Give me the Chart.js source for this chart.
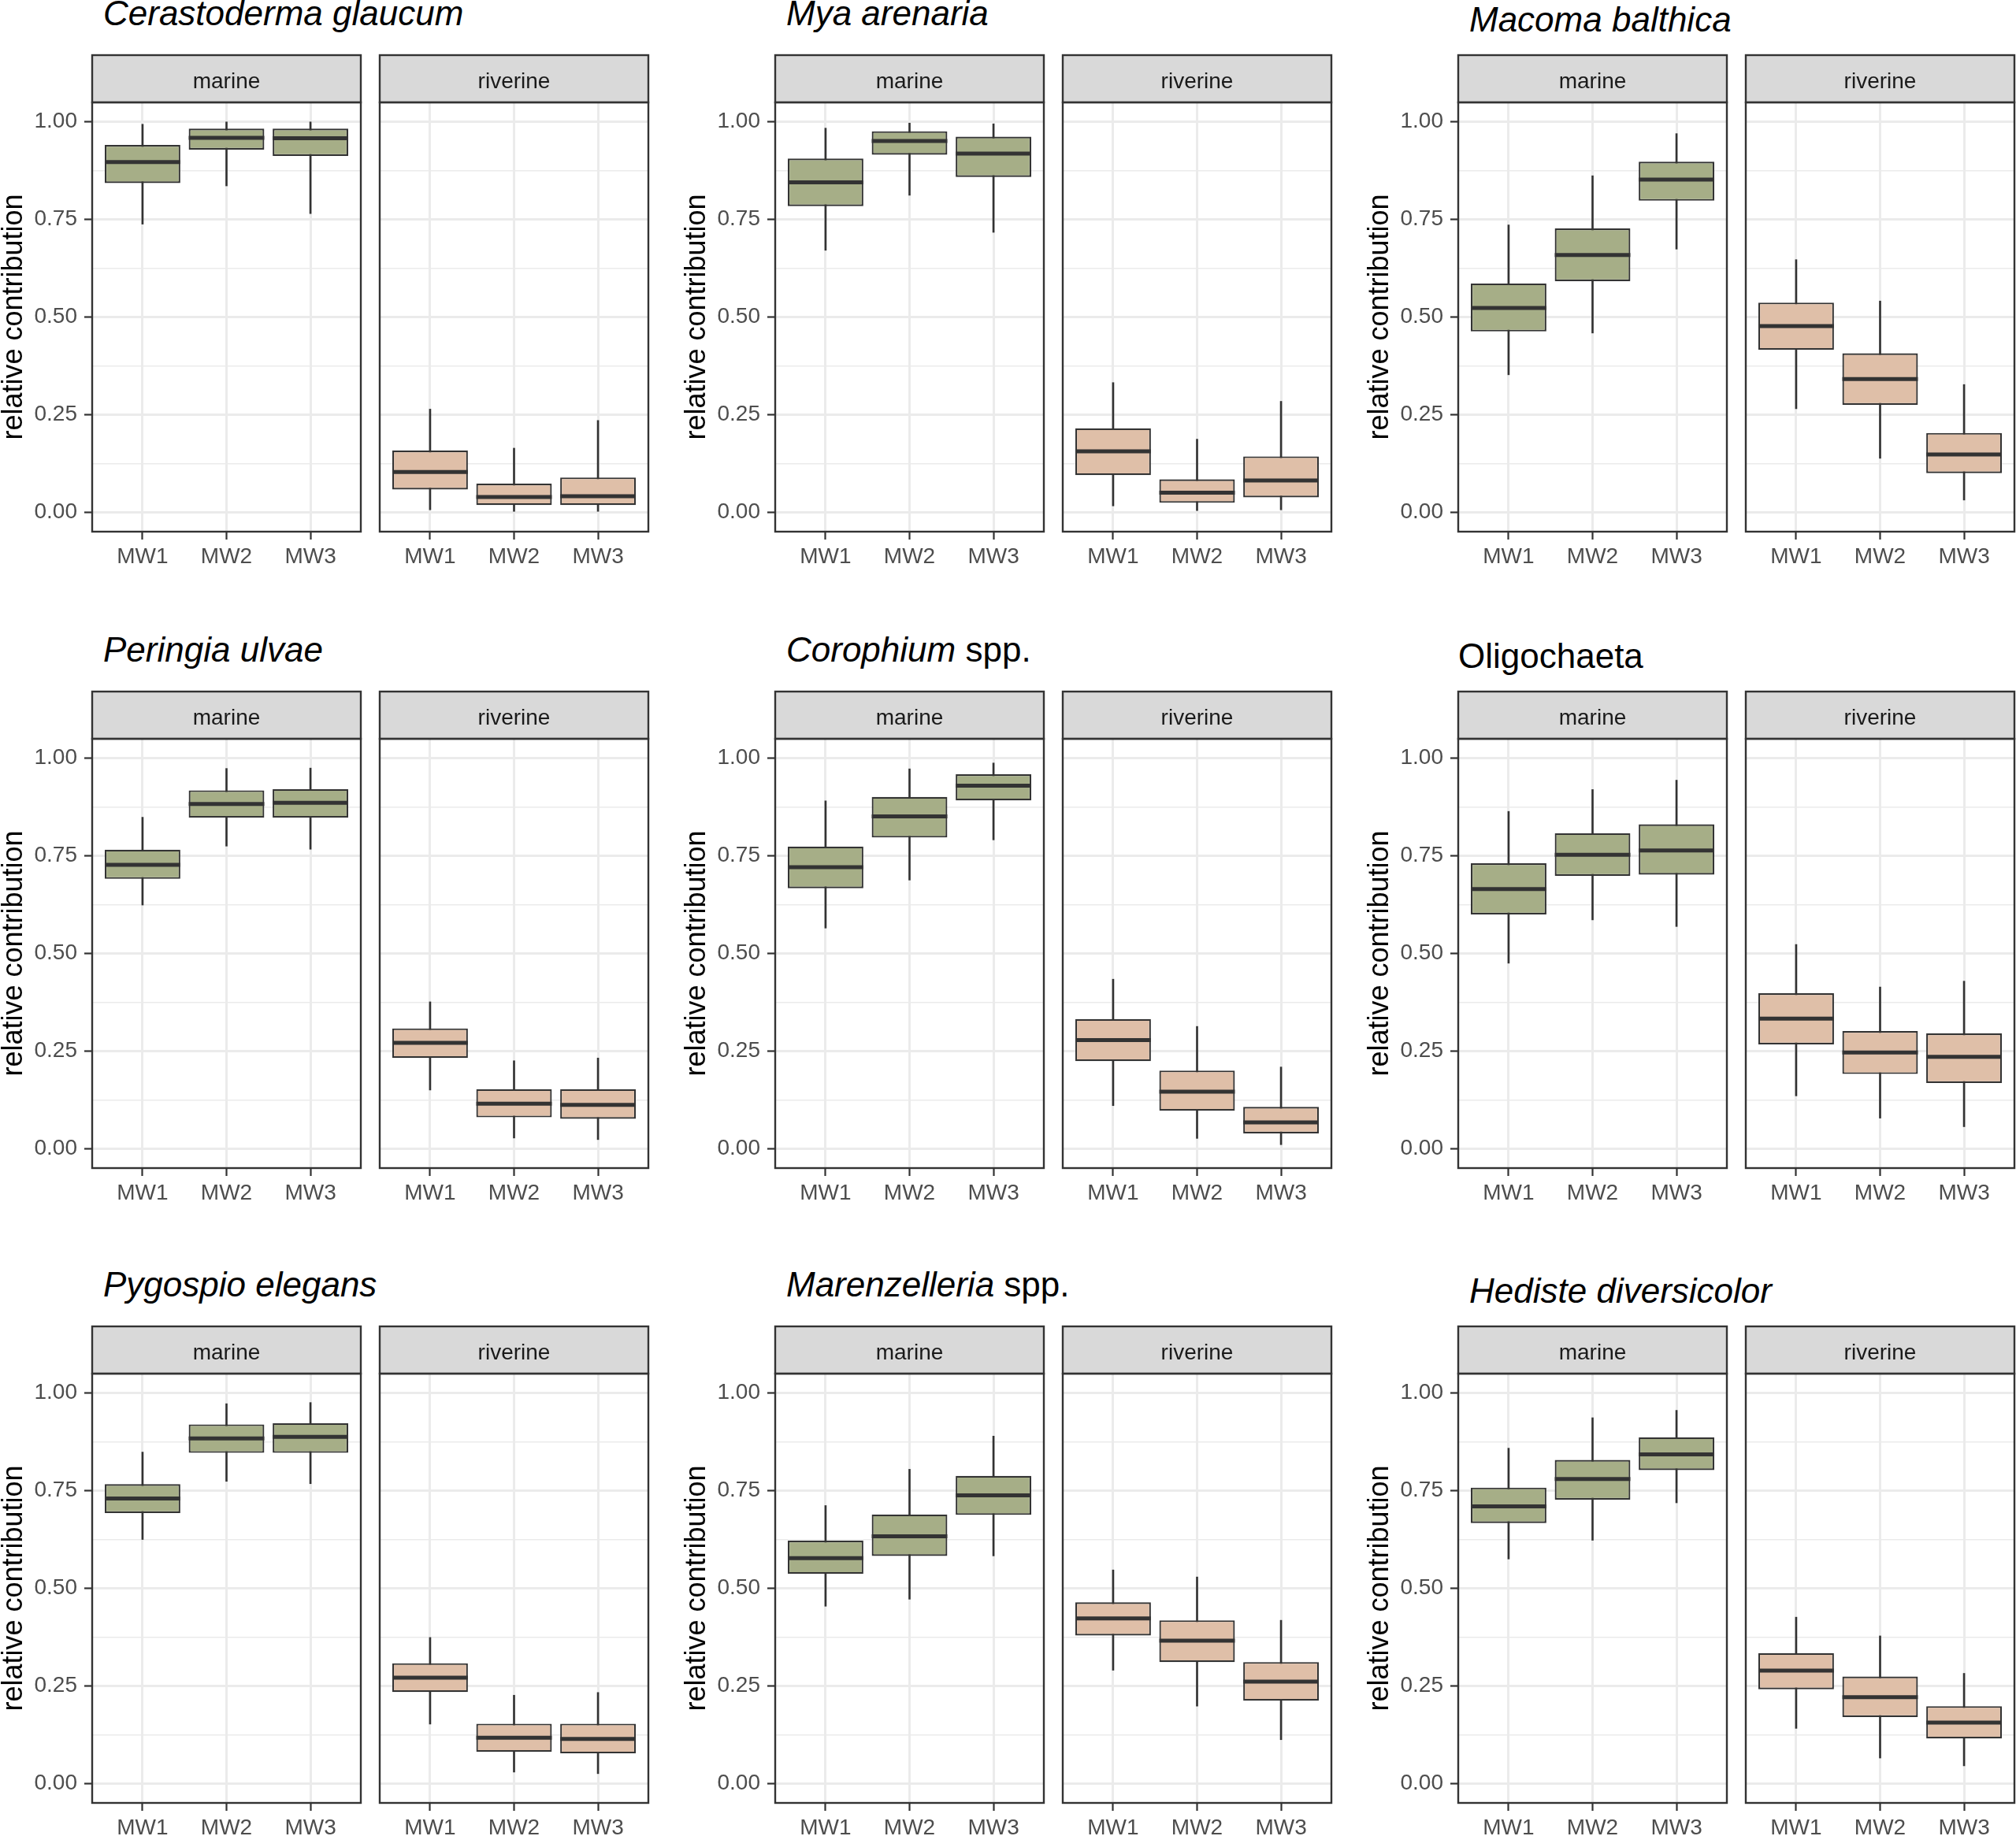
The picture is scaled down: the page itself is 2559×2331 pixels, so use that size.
<!DOCTYPE html>
<html>
<head>
<meta charset="utf-8">
<script src="https://cdn.jsdelivr.net/npm/chart.js@4.4.0/dist/chart.umd.min.js"></script>
<style>
  body { margin: 0; width: 2559px; height: 2331px; background: #fff; position: relative; overflow: hidden;
         font-family: "Liberation Sans", Arial, sans-serif; }
  .title { position: absolute; font-size: 44px; line-height: 44px; color: #000; white-space: nowrap; }
  canvas { position: absolute; }
</style>
</head>
<body>
<script>
// categories
const periods = ['MW1', 'MW2', 'MW3'];
const habitats = ['marine', 'riverine'];
const yMajor = [0, 0.25, 0.5, 0.75, 1];
const yMinor = [0.125, 0.375, 0.625, 0.875];

// each row: [lower whisker, Q1, median, Q3, upper whisker] for MW1, MW2, MW3
const cerastodermaMarine   = [[0.738, 0.843, 0.897, 0.941, 0.994], [0.836, 0.929, 0.959, 0.983, 1.000], [0.765, 0.913, 0.958, 0.983, 1.000]];
const cerastodermaRiverine = [[0.006, 0.058, 0.103, 0.158, 0.264], [0.002, 0.018, 0.039, 0.073, 0.164], [0.002, 0.018, 0.041, 0.089, 0.235]];
const myaMarine            = [[0.671, 0.784, 0.845, 0.906, 0.984], [0.812, 0.916, 0.951, 0.976, 0.997], [0.717, 0.859, 0.919, 0.962, 0.995]];
const myaRiverine          = [[0.016, 0.095, 0.156, 0.215, 0.332], [0.004, 0.024, 0.050, 0.084, 0.187], [0.006, 0.038, 0.081, 0.143, 0.284]];
const macomaMarine         = [[0.352, 0.463, 0.523, 0.586, 0.736], [0.459, 0.592, 0.659, 0.727, 0.862], [0.674, 0.798, 0.852, 0.898, 0.970]];
const macomaRiverine       = [[0.265, 0.416, 0.477, 0.537, 0.647], [0.138, 0.275, 0.341, 0.407, 0.541], [0.031, 0.100, 0.148, 0.203, 0.327]];
const peringiaMarine       = [[0.624, 0.691, 0.727, 0.766, 0.849], [0.775, 0.848, 0.883, 0.918, 0.974], [0.767, 0.848, 0.886, 0.921, 0.975]];
const peringiaRiverine     = [[0.150, 0.232, 0.271, 0.308, 0.376], [0.027, 0.080, 0.115, 0.152, 0.225], [0.023, 0.076, 0.112, 0.152, 0.232]];
const corophiumMarine      = [[0.565, 0.667, 0.721, 0.774, 0.891], [0.688, 0.797, 0.851, 0.901, 0.973], [0.791, 0.892, 0.930, 0.959, 0.988]];
const corophiumRiverine    = [[0.110, 0.224, 0.278, 0.332, 0.434], [0.026, 0.097, 0.146, 0.200, 0.313], [0.010, 0.039, 0.067, 0.107, 0.209]];
const oligochaetaMarine    = [[0.475, 0.600, 0.665, 0.731, 0.864], [0.586, 0.699, 0.753, 0.808, 0.920], [0.569, 0.702, 0.764, 0.831, 0.944]];
const oligochaetaRiverine  = [[0.135, 0.267, 0.333, 0.398, 0.523], [0.078, 0.191, 0.246, 0.301, 0.414], [0.056, 0.168, 0.235, 0.295, 0.429]];
const pygospioMarine       = [[0.625, 0.693, 0.730, 0.767, 0.849], [0.774, 0.847, 0.884, 0.920, 0.973], [0.768, 0.847, 0.888, 0.923, 0.976]];
const pygospioRiverine     = [[0.152, 0.234, 0.271, 0.308, 0.374], [0.029, 0.081, 0.117, 0.153, 0.226], [0.025, 0.077, 0.114, 0.153, 0.233]];
const marenzelleriaMarine  = [[0.454, 0.537, 0.577, 0.622, 0.712], [0.472, 0.583, 0.633, 0.689, 0.805], [0.583, 0.688, 0.738, 0.788, 0.890]];
const marenzelleriaRiverine= [[0.290, 0.379, 0.423, 0.464, 0.547], [0.198, 0.311, 0.366, 0.418, 0.529], [0.112, 0.212, 0.261, 0.311, 0.418]];
const hedisteMarine        = [[0.575, 0.667, 0.710, 0.758, 0.859], [0.623, 0.727, 0.780, 0.829, 0.937], [0.719, 0.803, 0.843, 0.887, 0.956]];
const hedisteRiverine      = [[0.141, 0.241, 0.289, 0.334, 0.426], [0.065, 0.170, 0.221, 0.274, 0.378], [0.045, 0.115, 0.156, 0.198, 0.282]];

// panel titles: [text, italic]
const titleParts = [
  [['Cerastoderma glaucum', true]],
  [['Mya arenaria', true]],
  [['Macoma balthica', true]],
  [['Peringia ulvae', true]],
  [['Corophium', true], [' spp.', false]],
  [['Oligochaeta', false]],
  [['Pygospio elegans', true]],
  [['Marenzelleria', true], [' spp.', false]],
  [['Hediste diversicolor', true]]
];
const panelData = [
  [cerastodermaMarine, cerastodermaRiverine],
  [myaMarine, myaRiverine],
  [macomaMarine, macomaRiverine],
  [peringiaMarine, peringiaRiverine],
  [corophiumMarine, corophiumRiverine],
  [oligochaetaMarine, oligochaetaRiverine],
  [pygospioMarine, pygospioRiverine],
  [marenzelleriaMarine, marenzelleriaRiverine],
  [hedisteMarine, hedisteRiverine]
];

const fills = { marine: '#a6ae87', riverine: '#dfbfa8' };
const ink = '#333333';
const FONT = '"Liberation Sans", Arial, sans-serif';

// layout (px)
const colLeft = [117, 984, 1851];
const rowTop = [70, 878, 1684];
const titleDrop = [37.5, 37.5, 30];
const titleIndent = [14, 14, 14, 14, 14, 0, 14, 14, 14];
const plotW = 341, facetStep = 365, stripH = 60, plotH = 545, axisW = 117, axisH = 60;

Chart.defaults.font.family = FONT;

// grey strip + panel border
const facetFrame = {
  id: 'facetFrame',
  afterDraw(chart, args, opts) {
    const { ctx, chartArea: a } = chart;
    const top = a.top - stripH;
    ctx.save();
    ctx.fillStyle = '#d9d9d9';
    ctx.fillRect(a.left, top, a.right - a.left, stripH);
    ctx.strokeStyle = ink;
    ctx.lineWidth = 2.4;
    ctx.strokeRect(a.left, top, a.right - a.left, stripH);
    ctx.strokeRect(a.left, a.top, a.right - a.left, a.bottom - a.top);
    ctx.fillStyle = '#1a1a1a';
    ctx.font = '28px ' + FONT;
    ctx.textAlign = 'center';
    ctx.textBaseline = 'alphabetic';
    ctx.fillText(opts.label, (a.left + a.right) / 2, top + 42);
    ctx.restore();
  }
};

function makeFacet(stats, habitat, left, top) {
  const marine = habitat === 'marine';
  const leftExtra = marine ? axisW : 2;
  const canvas = document.createElement('canvas');
  canvas.width = leftExtra + plotW + 3;
  canvas.height = 3 + stripH + plotH + axisH;
  canvas.style.left = (left - leftExtra) + 'px';
  canvas.style.top = (top - 3) + 'px';
  document.body.appendChild(canvas);

  new Chart(canvas.getContext('2d'), {
    type: 'bar',
    data: {
      datasets: [
        {
          type: 'line',
          label: 'median',
          data: stats.map((s, k) => ({ x: k + 1, y: s[2] })),
          showLine: false,
          pointStyle: 'line',
          pointRadius: c => {
            const xs = c.chart.scales.x;
            return xs.getPixelForValue(1.45) - xs.getPixelForValue(1);
          },
          pointBorderWidth: 5,
          pointBorderColor: ink,
          order: 1
        },
        {
          label: 'box',
          data: stats.map((s, k) => ({ x: k + 1, y: [s[1], s[3]] })),
          backgroundColor: fills[habitat],
          borderColor: ink,
          borderWidth: 2.2,
          borderSkipped: false,
          barPercentage: 0.9,
          categoryPercentage: 1,
          grouped: false,
          order: 2
        },
        {
          label: 'whisker',
          data: stats.map((s, k) => ({ x: k + 1, y: [s[0], s[4]] })),
          backgroundColor: ink,
          barThickness: 2,
          grouped: false,
          order: 3
        }
      ]
    },
    options: {
      responsive: false,
      animation: false,
      devicePixelRatio: 1,
      layout: { padding: { top: 3 + stripH, right: 3, left: marine ? 0 : 2, bottom: 0 } },
      plugins: {
        legend: { display: false },
        tooltip: { enabled: false },
        facetFrame: { label: habitat }
      },
      scales: {
        x: {
          type: 'linear',
          min: 0.4,
          max: 3.6,
          offset: false,
          afterBuildTicks: s => { s.ticks = periods.map((p, k) => ({ value: k + 1 })); },
          afterFit: s => { s.height = axisH; },
          ticks: {
            callback: v => periods[v - 1],
            color: '#4d4d4d',
            font: { size: 28, lineHeight: 1 },
            padding: 8,
            autoSkip: false,
            maxRotation: 0
          },
          grid: {
            offset: false,
            color: '#ebebeb',
            lineWidth: 3,
            tickLength: 10,
            tickColor: ink,
            tickWidth: 2.2
          },
          border: { display: false }
        },
        y: {
          min: -0.05,
          max: 1.05,
          afterBuildTicks: s => { s.ticks = yMajor.concat(yMinor).sort((a, b) => a - b).map(v => ({ value: v })); },
          afterFit: s => { s.width = marine ? axisW : 0; },
          ticks: {
            display: marine,
            callback: v => yMajor.includes(v) ? v.toFixed(2) : '',
            color: '#4d4d4d',
            font: { size: 28 },
            padding: 9,
            autoSkip: false
          },
          grid: {
            color: '#ebebeb',
            lineWidth: c => yMajor.includes(c.tick.value) ? 3 : 1.5,
            drawTicks: marine,
            tickLength: 10,
            tickColor: c => yMajor.includes(c.tick.value) ? ink : 'rgba(0,0,0,0)',
            tickWidth: 2.2
          },
          border: { display: false },
          title: {
            display: marine,
            text: 'relative contribution',
            color: '#000',
            font: { size: 36, lineHeight: 1 },
            padding: 0
          }
        }
      }
    },
    plugins: [facetFrame]
  });
}

panelData.forEach((pair, i) => {
  const col = i % 3, row = Math.floor(i / 3);
  const title = document.createElement('div');
  title.className = 'title';
  title.style.left = (colLeft[col] + titleIndent[i]) + 'px';
  title.style.top = (rowTop[row] - titleDrop[col] - 37.2) + 'px';
  titleParts[i].forEach(([text, italic]) => {
    const span = document.createElement('span');
    span.textContent = text;
    if (italic) span.style.fontStyle = 'italic';
    title.appendChild(span);
  });
  document.body.appendChild(title);

  habitats.forEach((h, j) => {
    makeFacet(pair[j], h, colLeft[col] + j * facetStep, rowTop[row]);
  });
});
</script>
</body>
</html>
